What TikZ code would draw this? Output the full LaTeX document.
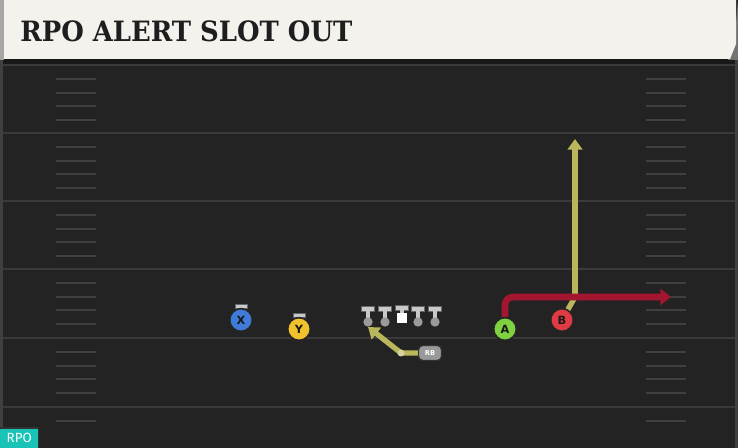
\documentclass[tikz,border=0pt]{standalone}
\usepackage{fontspec}
\setmainfont{DejaVu Sans}
\newfontfamily\titlefont{DejaVu Serif}
\newfontfamily\tagfont{Fira Sans}
\usetikzlibrary{arrows.meta}
\definecolor{fieldbg}{HTML}{232323}
\definecolor{bandbg}{HTML}{181818}
\definecolor{yardln}{HTML}{3A3A3A}
\definecolor{hashln}{HTML}{404040}
\definecolor{headbg}{HTML}{F4F2EC}
\definecolor{titlec}{HTML}{1E1E1E}
\definecolor{yroute}{HTML}{B9B65B}
\definecolor{rroute}{HTML}{A3162F}
\definecolor{pblue}{HTML}{3F7BD8}
\definecolor{pyellow}{HTML}{F2C12E}
\definecolor{pgreen}{HTML}{7FD140}
\definecolor{pred}{HTML}{E03A44}
\definecolor{olgrey}{HTML}{C9C9C9}
\definecolor{oldot}{HTML}{9A9A9A}
\definecolor{tagteal}{HTML}{19C3B5}
\tikzset{
  yardline/.style={draw=yardln, line width=1.6},
  hashmark/.style={draw=hashln, line width=1.6},
  player/.style={circle, draw=black!85, line width=1.2, minimum size=17, inner sep=0pt,
     font=\bfseries\fontsize{8.5}{8.5}\selectfont, text=black!90},
  pbar/.style={fill=olgrey, draw=black!60, line width=0.4},
  olbar/.style={fill=olgrey, draw=black!60, line width=0.4},
  oldotst/.style={circle, fill=oldot, inner sep=0pt, minimum size=7},
  yellowroute/.style={draw=yroute, line width=4, line cap=round, line join=round},
  redroute/.style={draw=rroute, line width=5, line join=round},
  rbbox/.style={draw=black!80, fill=black!40, rounded corners=3, line width=0.8,
     minimum width=17, minimum height=11, inner sep=0pt, font=\bfseries\fontsize{5}{5}\selectfont, text=white},
}
\begin{document}
\begin{tikzpicture}[x=0.75pt,y=-0.75pt]
\useasboundingbox (0,0) rectangle (738,448);
% background
\fill[fieldbg] (0,0) rectangle (738,448);
\fill[bandbg] (0,58) rectangle (738,66);
\fill[black!75] (0,58) rectangle (3,448);
\fill[black!75] (735,58) rectangle (738,448);
% yard lines
\foreach \yy in {65,133,201,269,338,407} {
  \draw[yardline] (3,\yy) -- (735,\yy);
}
% hash marks
\foreach \yy in {65,133,201,269,338} {
  \foreach \dd in {14,28,41,55} {
    \draw[hashmark] (56,\yy+\dd) -- (96,\yy+\dd);
    \draw[hashmark] (646,\yy+\dd) -- (686,\yy+\dd);
  }
}
\draw[hashmark] (56,421) -- (96,421);
\draw[hashmark] (646,421) -- (686,421);
% header
\fill[black!35] (0,0) rectangle (4,60);
\fill[black!55] (738,0) -- (738,60) -- (728,60) -- (734,46) -- cycle;
\fill[headbg] (4,0) -- (736,0) -- (736,44) -- (730,59) -- (4,59) -- cycle;
\node[anchor=base west, inner sep=0pt, text=titlec] (title) at (20,42)
  {\scalebox{0.925}[1]{\titlefont\bfseries\fontsize{21}{21}\selectfont RPO ALERT SLOT OUT}};
% RPO tag
\fill[black!80] (0,427) rectangle (39,448);
\node[fill=tagteal, anchor=south west, minimum width=38*0.75pt, minimum height=19*0.75pt,
  inner sep=0pt, text=white, font=\tagfont\fontsize{10}{10}\selectfont] (tag) at (0,448) {RPO};
% routes (yellow first)
\node[player, fill=pred] (B) at (562,320) {B};
\node[player, fill=pgreen] (A) at (505,329) {A};
\coordinate (Bturn) at (575,297);
\coordinate (Bend) at (575,139);
\draw[yellowroute] (B) -- (Bturn);
\draw[yellowroute, line cap=butt, -{Triangle[length=8, width=11]}] (Bturn) -- (Bend);
\coordinate (Aend) at (671,297);
\draw[redroute, rounded corners=6, -{Triangle[length=8, width=12]}] (A.north) |- (Aend);
\node[player, fill=pred] at (B) {B};
\node[player, fill=pgreen] at (A) {A};
% X and Y
\fill[pbar] (235,304) rectangle (247,308);
\fill[olgrey] (239.5,308) rectangle (242.5,312);
\node[player, fill=pblue] (X) at (241,320) {X};
\fill[pbar] (293,313) rectangle (305,317);
\fill[olgrey] (297.5,317) rectangle (300.5,321);
\node[player, fill=pyellow] (Y) at (299,329) {Y};
% offensive line
\foreach \xx/\nm in {368/LT,385/LG,418/RG,435/RT} {
  \fill[olbar] (\xx-6.5,306) rectangle (\xx+6.5,311);
  \fill[olgrey] (\xx-2,311) rectangle (\xx+2,320);
  \node[oldotst] (\nm) at (\xx,322) {};
}
\fill[olbar] (395.5,305) rectangle (408.5,310);
\fill[olgrey] (400,310) rectangle (404,314);
\node[fill=white, minimum size=7.5, inner sep=0pt] (C) at (402,318) {};
% RB
\node[rbbox] (RB) at (430,353) {RB};
\coordinate (RBbend) at (401,353);
\coordinate (RBend) at (368,327);
\draw[yellowroute, line cap=butt, -{Triangle[length=8, width=11]}] (RB.west) -- (RBbend) -- (RBend);
\fill[yroute!60!white] (RBbend) circle (3.5);
\node[rbbox] at (RB) {RB};
\end{tikzpicture}
\end{document}
